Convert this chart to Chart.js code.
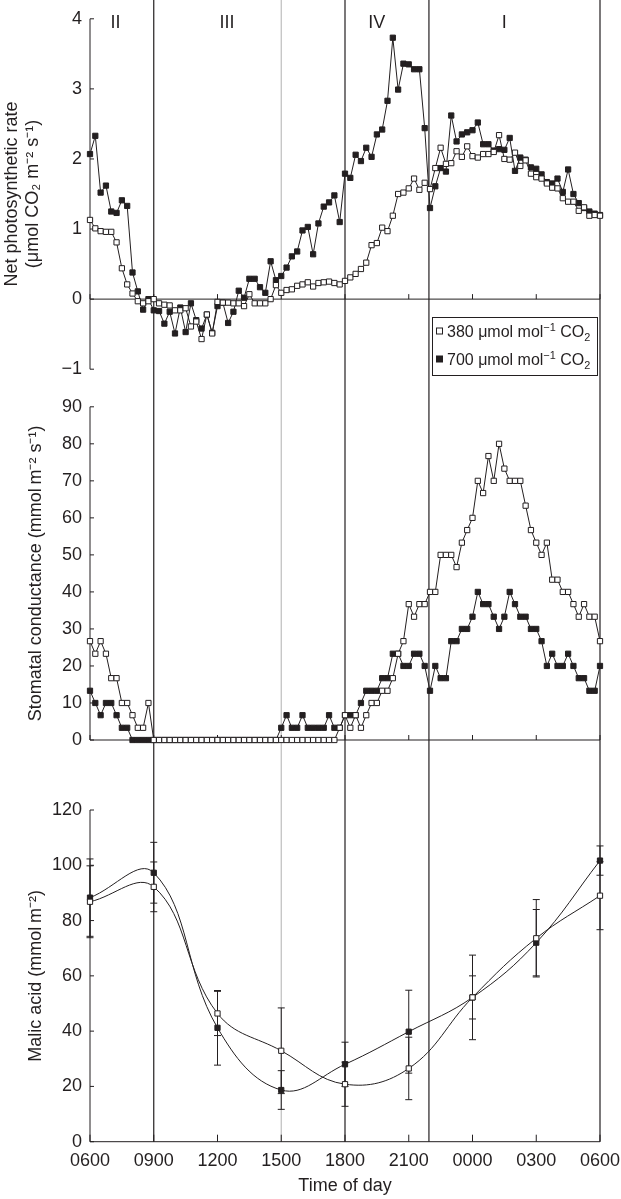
<!DOCTYPE html>
<html>
<head>
<meta charset="utf-8">
<script src="https://cdn.jsdelivr.net/npm/chart.js@4.4.1/dist/chart.umd.min.js"></script>
<style>
  html, body { margin: 0; padding: 0; background: #fff; }
  #wrap { position: relative; width: 621px; height: 1199px; }
  canvas { position: absolute; left: 0; }
</style>
</head>
<body>
<div id="wrap">
  <canvas id="photo" width="621" height="388" style="top:0"></canvas>
  <canvas id="cond" width="621" height="382" style="top:388px"></canvas>
  <canvas id="malic" width="621" height="429" style="top:770px"></canvas>
</div>
<script>
// Daily course of gas exchange and malic acid, 380 vs 700 umol/mol CO2

// readings every 15 min, x is hours after 0600
var stepHours = 0.25;
var xTickLabels = ['0600', '0900', '1200', '1500', '1800', '2100', '0000', '0300', '0600'];
var seriesNames = ['380', '700'];
var phaseLines = [3, 12, 15.95, 24];
var greyLines = [9];
var phaseNames = ['II', 'III', 'IV', 'I'];
var phaseNameAt = [1.2, 6.45, 13.5, 19.5];

var photo380 = [1.13, 1.01, 0.97, 0.96, 0.96, 0.81, 0.44, 0.21, 0.08, -0.03, -0.06, -0.03, 0.0,
  -0.06, -0.08, -0.09, -0.16, -0.16, -0.13, -0.39, -0.32, -0.57, -0.22, -0.49, -0.04, -0.05,
  -0.05, -0.06, -0.06, -0.10, 0.07, -0.06, -0.06, -0.06, 0.0, 0.20, 0.09, 0.13, 0.14, 0.19,
  0.21, 0.24, 0.18, 0.23, 0.24, 0.25, 0.23, 0.21, 0.26, 0.31, 0.36, 0.43, 0.52, 0.77, 0.80,
  1.02, 0.97, 1.19, 1.50, 1.52, 1.58, 1.72, 1.56, 1.66, 1.57, 1.87, 2.16, 1.93, 1.94, 2.11,
  2.03, 2.18, 2.04, 2.02, 2.07, 2.07, 2.10, 2.34, 2.00, 1.99, 2.09, 1.90, 1.98, 1.79, 1.74,
  1.72, 1.65, 1.59, 1.58, 1.44, 1.39, 1.39, 1.26, 1.31, 1.19, 1.20, 1.19];
var photo700 = [2.07, 2.33, 1.52, 1.62, 1.25, 1.23, 1.41, 1.33, 0.38, 0.11, -0.15, 0.0, -0.16,
  -0.17, -0.35, -0.18, -0.49, -0.12, -0.47, -0.06, -0.30, -0.42, -0.22, -0.48, -0.10, -0.05,
  -0.34, -0.18, 0.12, 0.02, 0.29, 0.29, 0.17, 0.09, 0.54, 0.27, 0.33, 0.45, 0.61, 0.68,
  0.98, 1.03, 0.64, 1.08, 1.32, 1.38, 1.48, 1.10, 1.79, 1.73, 2.06, 1.97, 2.16, 2.03, 2.35,
  2.42, 2.83, 3.73, 2.99, 3.36, 3.35, 3.28, 3.28, 2.44, 1.30, 1.61, 1.87, 1.82, 2.62, 2.25,
  2.35, 2.38, 2.41, 2.52, 2.21, 2.21, 2.12, 2.14, 2.13, 2.30, 1.83, 2.02, 1.99, 1.88, 1.86,
  1.78, 1.67, 1.65, 1.72, 1.53, 1.85, 1.50, 1.37, 1.30, 1.25, 1.22, 1.20];

var cond380 = [26.7, 23.3, 26.7, 23.3, 16.7, 16.7, 10, 10, 6.7, 3.3, 3.3, 10, 0,
  0, 0, 0, 0, 0, 0, 0, 0, 0, 0, 0, 0, 0, 0, 0, 0, 0, 0, 0, 0, 0, 0, 0, 0, 0, 0, 0, 0, 0, 0, 0, 0, 0, 0,
  3.3, 6.7, 3.3, 6.7, 3.3, 6.7, 10, 10, 13.3, 13.3, 16.7, 23.3, 26.7, 36.7, 33.3, 36.7, 36.7,
  40, 40, 50, 50, 50, 46.7, 53.3, 56.7, 60, 70, 66.7, 76.7, 70, 80, 73.3, 70, 70, 70, 63.3,
  56.7, 53.3, 50, 53.3, 43.3, 43.3, 40, 40, 36.7, 33.3, 36.7, 33.3, 33.3, 26.7];
var cond700 = [13.3, 10, 6.7, 10, 10, 6.7, 3.3, 3.3,
  0, 0, 0, 0, 0, 0, 0, 0, 0, 0, 0, 0, 0, 0, 0, 0, 0, 0, 0, 0, 0, 0, 0, 0, 0, 0, 0, 0,
  3.3, 6.7, 3.3, 3.3, 6.7, 3.3, 3.3, 3.3, 3.3, 6.7, 3.3, 3.3, 6.7, 6.7, 6.7, 10, 13.3, 13.3,
  13.3, 16.7, 16.7, 23.3, 23.3, 20, 20, 23.3, 23.3, 20, 13.3, 20, 16.7, 16.7, 26.7, 26.7,
  30, 30, 33.3, 40, 36.7, 36.7, 33.3, 30, 33.3, 40, 36.7, 33.3, 33.3, 30, 30, 26.7, 20,
  23.3, 20, 20, 23.3, 20, 16.7, 16.7, 13.3, 13.3, 20];

var malicHours = [0, 3, 6, 9, 12, 15, 18, 21, 24];
var malic380 = [86.8, 92.2, 46.4, 32.9, 20.8, 26.5, 52.2, 73.6, 89.0];
var malic380Err = [13, 9, 8, 15.5, 8, 11.3, 15.3, 14, 12.3];
var malic700 = [88.3, 97.3, 41.2, 18.7, 28.0, 39.8, 52.2, 72.0, 101.7];
var malic700Err = [14, 11, 13.5, 7, 8, 15, 7.8, 12, 5.3];

var ink = '#231f20';
var fontFamily = '"Liberation Sans", Arial, Helvetica, sans-serif';
Chart.defaults.font.family = fontFamily;
Chart.defaults.font.size = 18;
Chart.defaults.color = ink;

function toPoints(arr) {
  return arr.map(function(v, i) { return { x: i * stepHours, y: v }; });
}

function seg(ctx, x1, y1, x2, y2) {
  ctx.beginPath();
  ctx.moveTo(x1, y1);
  ctx.lineTo(x2, y2);
  ctx.stroke();
}

function series(name, data, filled, tension) {
  return {
    label: name,
    data: data,
    borderColor: ink,
    borderWidth: 1,
    backgroundColor: filled ? ink : '#fff',
    pointBackgroundColor: filled ? ink : '#fff',
    pointBorderColor: ink,
    pointBorderWidth: 1,
    pointStyle: 'rect',
    pointRadius: 3.7,
    tension: tension,
    clip: false
  };
}

// text with small raised / lowered pieces
function richText(ctx, parts, x, y, size) {
  parts.forEach(function(p) {
    var s = p.sup || p.sub ? size * 0.68 : size;
    ctx.font = s + 'px ' + fontFamily;
    var dy = p.sup ? -size * 0.38 : (p.sub ? size * 0.28 : 0);
    ctx.fillText(p.t, x, y + dy);
    x += ctx.measureText(p.t).width;
  });
}

var panelPlugin = {
  id: 'panel',
  beforeDatasetsDraw: function(chart, args, opts) {
    var ctx = chart.ctx, xs = chart.scales.x, ys = chart.scales.y, a = chart.chartArea;
    var bottom = opts.toAxis ? a.bottom : chart.height;
    ctx.save();
    ctx.lineWidth = 1.2;
    ctx.strokeStyle = '#bdbdbd';
    greyLines.forEach(function(h) {
      var px = xs.getPixelForValue(h);
      seg(ctx, px, 0, px, bottom);
    });
    ctx.strokeStyle = ink;
    phaseLines.forEach(function(h) {
      var px = xs.getPixelForValue(h);
      seg(ctx, px, 0, px, bottom);
    });

    ctx.lineWidth = 1;
    var y0 = ys.getPixelForValue(0);
    seg(ctx, a.left, ys.getPixelForValue(ys.max), a.left, ys.getPixelForValue(ys.min));
    seg(ctx, a.left, y0, a.right, y0);
    ys.ticks.forEach(function(t) {
      var py = ys.getPixelForValue(t.value);
      seg(ctx, a.left, py, a.left + 4, py);
    });
    xTickLabels.forEach(function(l, i) {
      var px = xs.getPixelForValue(i * 3);
      seg(ctx, px, y0, px, y0 - opts.tick);
    });

    if (opts.errors) {
      opts.errors.forEach(function(e) {
        e.values.forEach(function(v, i) {
          var px = xs.getPixelForValue(malicHours[i]);
          var top = ys.getPixelForValue(v + e.err[i]);
          var low = ys.getPixelForValue(v - e.err[i]);
          seg(ctx, px, top, px, low);
          seg(ctx, px - 3.5, top, px + 3.5, top);
          seg(ctx, px - 3.5, low, px + 3.5, low);
        });
      });
    }
    ctx.restore();
  },
  afterDatasetsDraw: function(chart, args, opts) {
    if (!opts.legend) return;
    var ctx = chart.ctx, xs = chart.scales.x;
    ctx.save();
    ctx.fillStyle = ink;
    ctx.textBaseline = 'middle';
    ctx.textAlign = 'center';
    ctx.font = '18px ' + fontFamily;
    phaseNames.forEach(function(n, i) {
      ctx.fillText(n, xs.getPixelForValue(phaseNameAt[i]), 23);
    });

    // legend box
    ctx.strokeStyle = ink;
    ctx.lineWidth = 1;
    ctx.fillStyle = '#fff';
    ctx.fillRect(432, 317, 165, 58);
    ctx.strokeRect(432.5, 317.5, 165, 58);
    ctx.textAlign = 'left';
    ctx.textBaseline = 'alphabetic';
    seriesNames.forEach(function(n, i) {
      var cy = 331 + i * 28;
      ctx.fillStyle = i === 0 ? '#fff' : ink;
      ctx.fillRect(436.5, cy - 3, 6, 6);
      ctx.strokeRect(436.5, cy - 3, 6, 6);
      ctx.fillStyle = ink;
      richText(ctx, [{ t: n + ' \u03bcmol mol' }, { t: '\u22121', sup: true }, { t: ' CO' }, { t: '2', sub: true }],
        447, cy + 6, 16);
    });
    ctx.restore();
  }
};
Chart.register(panelPlugin);

function yAxis(min, max, step, title, titlePad) {
  return {
    type: 'linear',
    min: min,
    max: max,
    afterFit: function(scale) { scale.width = 90; },
    grid: { display: false, drawTicks: false },
    border: { display: false },
    ticks: {
      stepSize: step,
      padding: 8,
      callback: function(v) { return v < 0 ? '\u2212' + Math.abs(v) : v; }
    },
    title: { display: true, text: title, padding: { top: titlePad, bottom: 0 }, font: { size: 18 } }
  };
}

function hiddenX() {
  return { type: 'linear', min: 0, max: 24, display: false };
}

function baseOptions(pad, scales, panel) {
  return {
    responsive: false,
    animation: false,
    layout: { padding: pad },
    plugins: { legend: { display: false }, tooltip: { enabled: false }, panel: panel },
    scales: scales
  };
}

new Chart(document.getElementById('photo'), {
  type: 'line',
  data: { datasets: [series('380', toPoints(photo380), false, 0), series('700', toPoints(photo700), true, 0)] },
  options: baseOptions({ top: 12.3, bottom: 18, left: 0, right: 21 }, {
    x: hiddenX(),
    y: yAxis(-1, 4, 1, ['Net photosynthetic rate', '(\u03bcmol CO\u2082 m\u207b\u00b2 s\u207b\u00b9)'], 1)
  }, { tick: 5, legend: true })
});

new Chart(document.getElementById('cond'), {
  type: 'line',
  data: { datasets: [series('380', toPoints(cond380), false, 0), series('700', toPoints(cond700), true, 0)] },
  options: baseOptions({ top: 17.3, bottom: 30, left: 0, right: 21 }, {
    x: hiddenX(),
    y: yAxis(0, 90, 10, 'Stomatal conductance (mmol\u2009m\u207b\u00b2 s\u207b\u00b9)', 25)
  }, { tick: 5 })
});

function malicPoints(vals) {
  return vals.map(function(v, i) { return { x: malicHours[i], y: v }; });
}

new Chart(document.getElementById('malic'), {
  type: 'line',
  data: { datasets: [series('380', malicPoints(malic380), false, 0.4), series('700', malicPoints(malic700), true, 0.4)] },
  options: baseOptions({ top: 40, bottom: 0, left: 0, right: 21 }, {
    x: {
      type: 'linear',
      min: 0,
      max: 24,
      afterFit: function(scale) {
        scale.height = 57.3;
        scale.paddingLeft = 0;
        scale.paddingRight = 0;
      },
      grid: { display: false, drawTicks: false },
      border: { display: false },
      ticks: {
        stepSize: 3,
        padding: 9,
        maxRotation: 0,
        callback: function(v) { return xTickLabels[v / 3]; }
      },
      title: { display: true, text: 'Time of day', padding: { top: 0, bottom: 2 }, font: { size: 18 } }
    },
    y: yAxis(0, 120, 20, 'Malic acid (mmol\u2009m\u207b\u00b2)', 25)
  }, { tick: 7, toAxis: true, errors: [
    { values: malic380, err: malic380Err },
    { values: malic700, err: malic700Err }
  ] })
});
</script>
</body>
</html>
